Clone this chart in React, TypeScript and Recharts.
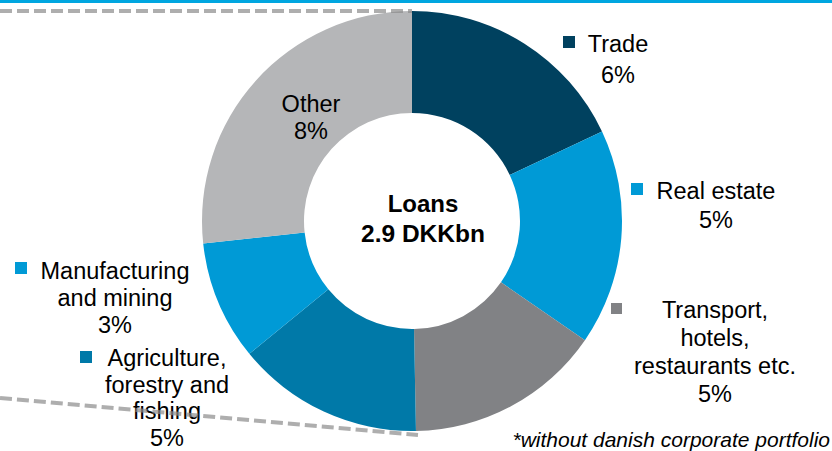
import { PieChart, Pie, Cell } from 'recharts'

// loan breakdown (slice share, label % as printed)
const sectors = ['Trade', 'Real estate', 'Transport, hotels, restaurants etc.', 'Agriculture, forestry and fishing', 'Manufacturing and mining', 'Other']
const shares = [18.0, 16.6, 15.1, 14.4, 9.2, 26.7]
const pctLabels = ['6%', '5%', '5%', '5%', '3%', '8%']
const labelLines = [
  ['Trade'],
  ['Real estate'],
  ['Transport,', 'hotels,', 'restaurants etc.'],
  ['Agriculture,', 'forestry and', 'fishing'],
  ['Manufacturing', 'and mining'],
  ['Other'],
]
const colors = ['#00415f', '#009ad6', '#818285', '#0079a8', '#009ad6', '#b5b6b8']

const data = sectors.map((name, i) => ({ name, value: shares[i] }))

const FONT = '"Liberation Sans", Arial, sans-serif'

// where each label block sits: centre x, first baseline, line step, legend square
const layout = [
  { x: 618, y: 52, step: 31, sq: [563, 36, 12] },
  { x: 716, y: 199, step: 29, sq: [631, 183, 12] },
  { x: 715, y: 318, step: 28, sq: [611, 303, 11] },
  { x: 167, y: 366, step: 26.5, sq: [80, 351, 12] },
  { x: 115, y: 279, step: 27, sq: [15, 262, 12] },
  { x: 311, y: 112, step: 27, sq: null },
]

const renderLabel = (props: any) => {
  const i = props.index
  const l = layout[i]
  const lines = [...labelLines[i], pctLabels[i]]
  return (
    <g key={'lbl' + i}>
      {l.sq && (
        <rect x={l.sq[0]} y={l.sq[1]} width={l.sq[2]} height={l.sq[2]} fill={colors[i]} />
      )}
      {lines.map((t, k) => (
        <text
          key={k}
          x={l.x}
          y={l.y + k * l.step}
          textAnchor="middle"
          fontSize={23.5}
          fontFamily={FONT}
          fill="#000"
        >
          {t}
        </text>
      ))}
    </g>
  )
}

export default function App() {
  return (
    <div style={{ position: 'absolute', left: 0, top: 0, width: 832, height: 451, background: '#fff', overflow: 'hidden' }}>
      <PieChart width={832} height={451} margin={{ top: 0, right: 0, bottom: 0, left: 0 }}>
        <Pie
          data={data}
          dataKey="value"
          cx={412}
          cy={221}
          innerRadius={108}
          outerRadius={210}
          startAngle={90}
          endAngle={-270}
          stroke="none"
          label={renderLabel}
          labelLine={false}
          isAnimationActive={false}
        >
          {data.map((d, i) => (
            <Cell key={d.name} fill={colors[i]} />
          ))}
        </Pie>
      </PieChart>
      <svg width={832} height={451} style={{ position: 'absolute', left: 0, top: 0, pointerEvents: 'none' }}>
        <rect x={0} y={0} width={832} height={3} fill="#00a6e0" />
        {/* faint garbled guide strokes seen in the source */}
        <line x1={0} y1={11} x2={412} y2={11} stroke="#8c8c8c" strokeOpacity={0.7} strokeWidth={4} strokeDasharray="12 5" />
        <line x1={0} y1={398} x2={418} y2={435} stroke="#8c8c8c" strokeOpacity={0.7} strokeWidth={4} strokeDasharray="12 5" />
        <text x={423} y={212} textAnchor="middle" fontSize={24} fontWeight="bold" fontFamily={FONT} fill="#000">
          Loans
        </text>
        <text x={423} y={242} textAnchor="middle" fontSize={24.5} fontWeight="bold" fontFamily={FONT} fill="#000">
          2.9 DKKbn
        </text>
        <text x={830} y={447} textAnchor="end" fontSize={21} fontStyle="italic" fontFamily={FONT} fill="#000">
          *without danish corporate portfolio
        </text>
      </svg>
    </div>
  )
}
